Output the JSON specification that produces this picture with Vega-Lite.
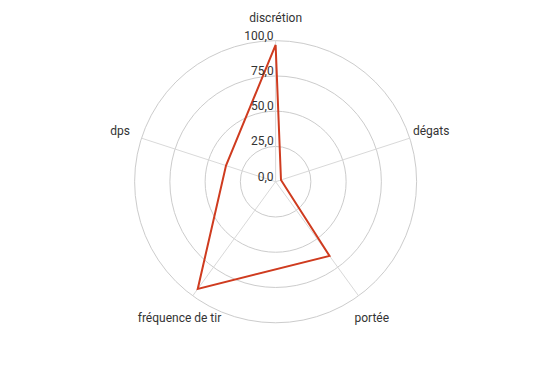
{
  "$schema": "https://vega.github.io/schema/vega-lite/v6.json",
  "width": 559,
  "height": 365,
  "padding": 0,
  "autosize": {"type": "none"},
  "config": {
    "view": {"stroke": null},
    "font": "Roboto"
  },
  "datasets": {
    "stats": [
      {"i": 0, "axe": "discrétion", "valeur": 97},
      {"i": 1, "axe": "dégats", "valeur": 4},
      {"i": 2, "axe": "portée", "valeur": 65},
      {"i": 3, "axe": "fréquence de tir", "valeur": 94},
      {"i": 4, "axe": "dps", "valeur": 37}
    ],
    "ticks": [
      {"t": 0}, {"t": 25}, {"t": 50}, {"t": 75}, {"t": 100}
    ]
  },
  "layer": [
    {
      "data": {"name": "ticks"},
      "transform": [
        {"filter": "datum.t > 0"},
        {"calculate": "0", "as": "cx"},
        {"calculate": "0", "as": "cy"}
      ],
      "mark": {"type": "point", "shape": "circle", "filled": false, "stroke": "#cccccc", "strokeWidth": 1, "opacity": 1},
      "encoding": {
        "x": {"field": "cx", "type": "quantitative", "scale": {"domain": [-195.5, 201], "nice": false, "zero": false}, "axis": null},
        "y": {"field": "cy", "type": "quantitative", "scale": {"domain": [-130, 128.9], "nice": false, "zero": false}, "axis": null},
        "size": {"field": "t", "type": "quantitative", "scale": {"type": "pow", "exponent": 2, "domain": [0, 100], "range": [0, 79524]}, "legend": null}
      }
    },
    {
      "data": {"name": "stats"},
      "transform": [
        {"calculate": "datum.i * 2 * PI / 5", "as": "a"},
        {"calculate": "0", "as": "cx"},
        {"calculate": "0", "as": "cy"},
        {"calculate": "100 * sin(datum.a)", "as": "sx"},
        {"calculate": "100 * cos(datum.a)", "as": "sy"}
      ],
      "mark": {"type": "rule", "color": "#d9d9d9", "strokeWidth": 1},
      "encoding": {
        "x": {"field": "cx", "type": "quantitative"},
        "y": {"field": "cy", "type": "quantitative"},
        "x2": {"field": "sx"},
        "y2": {"field": "sy"}
      }
    },
    {
      "data": {"name": "stats"},
      "transform": [
        {"calculate": "datum.i * 2 * PI / 5", "as": "a"},
        {"calculate": "datum.valeur * sin(datum.a)", "as": "px"},
        {"calculate": "datum.valeur * cos(datum.a)", "as": "py"}
      ],
      "mark": {"type": "line", "interpolate": "linear-closed", "color": "#cf3b1f", "strokeWidth": 2, "strokeJoin": "miter"},
      "encoding": {
        "x": {"field": "px", "type": "quantitative"},
        "y": {"field": "py", "type": "quantitative"},
        "order": {"field": "i", "type": "quantitative"}
      }
    },
    {
      "data": {"name": "stats"},
      "transform": [
        {"filter": "datum.i != 2 && datum.i != 3"},
        {"calculate": "datum.i * 2 * PI / 5", "as": "a"},
        {"calculate": "116 * sin(datum.a)", "as": "lx"},
        {"calculate": "116 * cos(datum.a)", "as": "ly"}
      ],
      "mark": {"type": "text", "fontSize": 12, "color": "#333333", "align": "center", "baseline": "middle"},
      "encoding": {
        "x": {"field": "lx", "type": "quantitative"},
        "y": {"field": "ly", "type": "quantitative"},
        "text": {"field": "axe", "type": "nominal"}
      }
    },
    {
      "data": {"name": "stats"},
      "transform": [
        {"filter": "datum.i == 2 || datum.i == 3"},
        {"calculate": "datum.i * 2 * PI / 5", "as": "a"},
        {"calculate": "116 * sin(datum.a)", "as": "lx"},
        {"calculate": "116 * cos(datum.a)", "as": "ly"}
      ],
      "mark": {"type": "text", "fontSize": 12, "color": "#333333", "align": "center", "baseline": "middle", "dy": 4},
      "encoding": {
        "x": {"field": "lx", "type": "quantitative"},
        "y": {"field": "ly", "type": "quantitative"},
        "text": {"field": "axe", "type": "nominal"}
      }
    },
    {
      "data": {"name": "ticks"},
      "transform": [
        {"calculate": "0", "as": "cx"},
        {"calculate": "replace(format(datum.t, '.1f'), '.', ',')", "as": "lab"}
      ],
      "mark": {"type": "text", "fontSize": 12, "color": "#333333", "align": "right", "baseline": "alphabetic", "dx": -2, "dy": -1},
      "encoding": {
        "x": {"field": "cx", "type": "quantitative"},
        "y": {"field": "t", "type": "quantitative"},
        "text": {"field": "lab", "type": "nominal"}
      }
    }
  ]
}
